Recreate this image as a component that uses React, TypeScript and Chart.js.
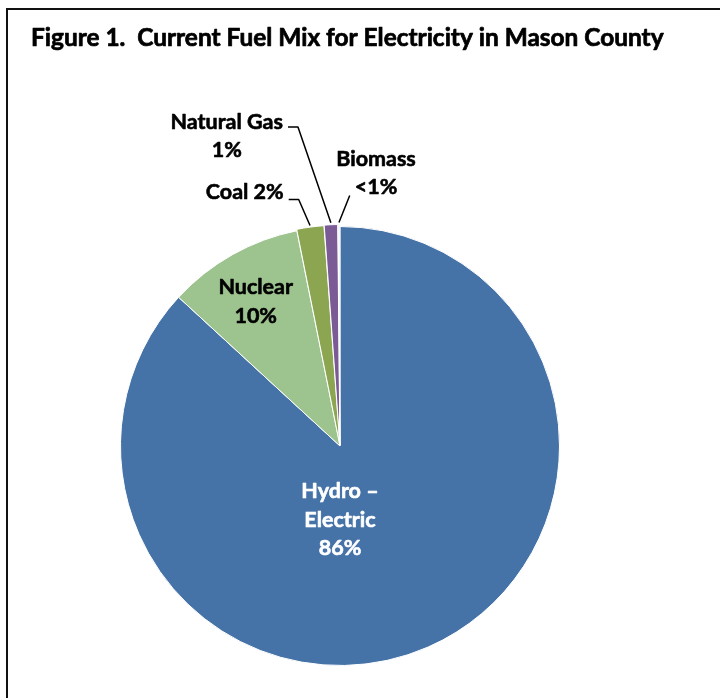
import React, { useEffect, useRef } from "react";
import { Chart, registerables } from "chart.js";

Chart.register(...registerables);

// ---- data ----
const TITLE = "Figure 1.  Current Fuel Mix for Electricity in Mason County";
const categories = ["Hydro – Electric", "Nuclear", "Coal", "Natural Gas", "Biomass"];
const shares = [86.85, 10.0, 2.0, 1.0, 0.15];
const labelLines = [
  ["Hydro –", "Electric", "86%"],
  ["Nuclear", "10%"],
  ["Coal 2%"],
  ["Natural Gas", "1%"],
  ["Biomass", "<1%"],
];

// ---- styles ----
const colors = ["#4572A7", "#9DC38F", "#8BA550", "#7A5B95", "#DCE4EE"];
const explode = [0, 0, 3, 4, 4];
const FONT = "Lato, 'Open Sans', 'DejaVu Sans', sans-serif";
const LABEL_SIZE = 21.5;
const LINE_H = 28.5;
// label block centres relative to pie centre, in radius units
const labelPos: [number, number][] = [
  [0, 0.336],
  [-0.384, -0.657],
  [-0.434, -1.155],
  [-0.516, -1.411],
  [0.164, -1.243],
];
const labelColor = ["#ffffff", "#000000", "#000000", "#000000", "#000000"];
const leaderKind = ["none", "none", "elbow", "elbow", "direct"];

function heavyText(ctx: CanvasRenderingContext2D, t: string, x: number, y: number, color: string, w: number) {
  ctx.fillStyle = color;
  ctx.strokeStyle = color;
  ctx.lineWidth = w;
  ctx.lineJoin = "round";
  ctx.strokeText(t, x, y);
  ctx.fillText(t, x, y);
}

const overlay = {
  id: "overlay",
  afterDraw(chart: any) {
    const ctx: CanvasRenderingContext2D = chart.ctx;
    const meta = chart.getDatasetMeta(0);
    const a0: any = meta.data[0];
    const cx = a0.x;
    const cy = a0.y;
    const r = a0.outerRadius;

    ctx.save();
    // frame
    ctx.strokeStyle = "#111";
    ctx.lineWidth = 2;
    ctx.beginPath();
    ctx.moveTo(7, 800);
    ctx.lineTo(7, 9);
    ctx.lineTo(800, 9);
    ctx.stroke();

    // title
    let ts = 22;
    ctx.font = `bold ${ts}px ${FONT}`;
    const tw = ctx.measureText(TITLE).width;
    ts = (ts * 633) / tw;
    ctx.font = `bold ${ts}px ${FONT}`;
    ctx.textAlign = "left";
    ctx.textBaseline = "alphabetic";
    heavyText(ctx, TITLE, 31, 45.5, "#000", 0.7);

    // labels
    ctx.font = `bold ${LABEL_SIZE}px ${FONT}`;
    ctx.textAlign = "center";
    ctx.textBaseline = "middle";
    meta.data.forEach((arc: any, i: number) => {
      const lines = labelLines[i];
      const bx = cx + labelPos[i][0] * r;
      const by = cy + labelPos[i][1] * r;
      const n = lines.length;
      const y0 = by - ((n - 1) * LINE_H) / 2;
      lines.forEach((t, k) => heavyText(ctx, t, bx, y0 + k * LINE_H, labelColor[i], 0.6));

      const kind = leaderKind[i];
      if (kind === "none") return;
      const mid = (arc.startAngle + arc.endAngle) / 2;
      const rr = arc.outerRadius + explode[i];
      const ax = cx + Math.cos(mid) * rr;
      const ay = cy + Math.sin(mid) * rr;
      ctx.strokeStyle = "#000";
      ctx.lineWidth = 1.5;
      ctx.beginPath();
      if (kind === "elbow") {
        const w = ctx.measureText(lines[0]).width;
        const sx = bx + w / 2 + 5;
        const sy = y0 + (n > 1 ? 5 : 7);
        ctx.moveTo(sx, sy);
        ctx.lineTo(sx + 10, sy);
        ctx.lineTo(ax, ay);
      } else {
        const w = ctx.measureText(lines[n - 1]).width;
        const sx = bx - w / 2 - 5;
        const sy = y0 + (n - 1) * LINE_H + 8;
        ctx.moveTo(sx, sy);
        ctx.lineTo(ax, ay);
      }
      ctx.stroke();
    });
    ctx.restore();
  },
};

export default function App() {
  const ref = useRef<HTMLCanvasElement>(null);
  useEffect(() => {
    if (!ref.current) return;
    const chart = new Chart(ref.current, {
      type: "pie",
      data: {
        labels: categories,
        datasets: [
          {
            data: shares,
            backgroundColor: colors,
            borderColor: "#ffffff",
            borderWidth: 1,
            offset: explode,
            hoverOffset: 0,
          } as any,
        ],
      },
      options: {
        responsive: false,
        animation: false,
        events: [],
        layout: { padding: { left: 118, right: 158, top: 224, bottom: 30 } },
        plugins: {
          legend: { display: false },
          tooltip: { enabled: false },
          title: { display: false },
        },
      },
      plugins: [overlay],
    });
    return () => chart.destroy();
  }, []);
  return (
    <div style={{ position: "absolute", left: 0, top: 0, width: 720, height: 698, background: "#fff" }}>
      <canvas ref={ref} width={720} height={698} style={{ display: "block" }} />
    </div>
  );
}
